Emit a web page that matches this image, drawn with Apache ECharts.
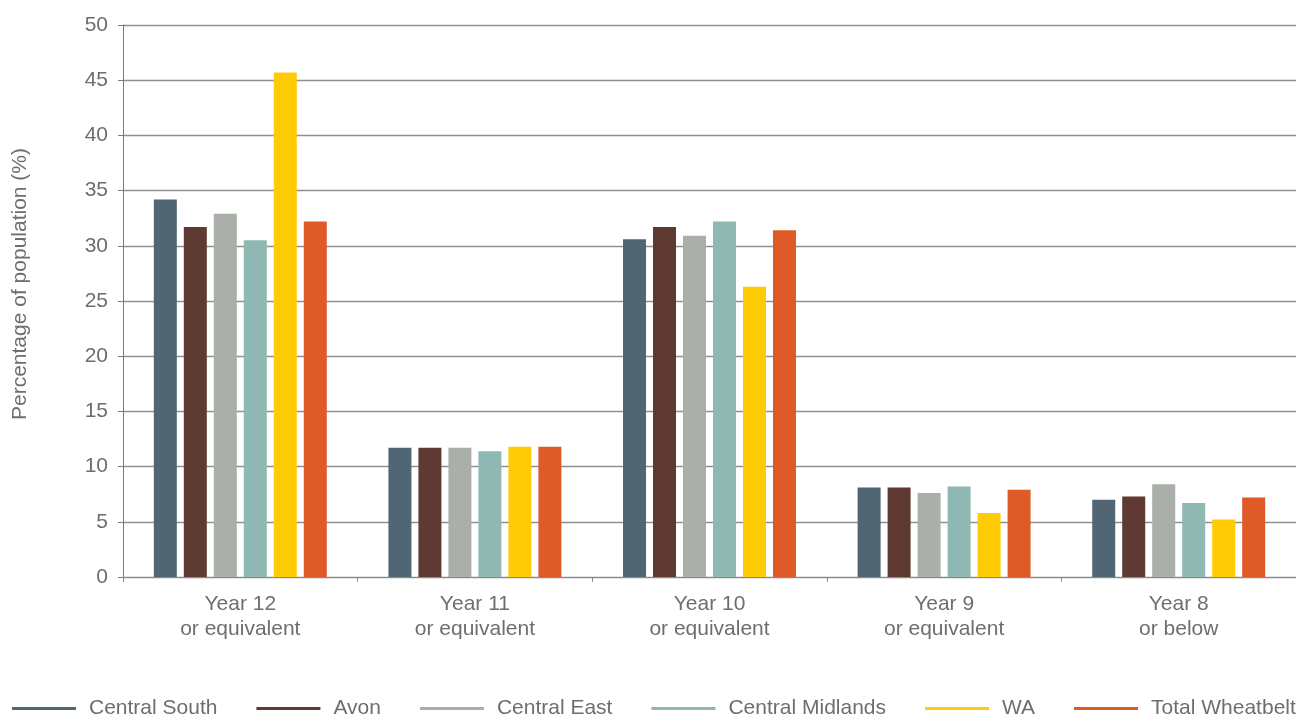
<!DOCTYPE html>
<html>
<head>
<meta charset="utf-8">
<title>Highest level of schooling completed</title>
<script src="https://cdn.jsdelivr.net/npm/echarts@6/dist/echarts.min.js"></script>
<style>
  html, body { margin: 0; padding: 0; background: #ffffff; }
  #chart { width: 1296px; height: 715px; }
</style>
</head>
<body>
<div id="chart"></div>
<script>
// Schooling categories along the x axis
const categories = [
  'Year 12\nor equivalent',
  'Year 11\nor equivalent',
  'Year 10\nor equivalent',
  'Year 9\nor equivalent',
  'Year 8\nor below'
];

// Percentage of population per region
const centralSouth    = [34.2, 11.7, 30.6, 8.1, 7.0];
const avon            = [31.7, 11.7, 31.7, 8.1, 7.3];
const centralEast     = [32.9, 11.7, 30.9, 7.6, 8.4];
const centralMidlands = [30.5, 11.4, 32.2, 8.2, 6.7];
const wa              = [45.7, 11.8, 26.3, 5.8, 5.2];
const totalWheatbelt  = [32.2, 11.8, 31.4, 7.9, 7.2];

const seriesNames = ['Central South', 'Avon', 'Central East', 'Central Midlands', 'WA', 'Total Wheatbelt'];
const seriesData = [centralSouth, avon, centralEast, centralMidlands, wa, totalWheatbelt];
const seriesColors = ['#516673', '#5f3a33', '#aab0a9', '#8fb8b3', '#ffcb05', '#de5a27'];

const textColor = '#6d6e70';
const fontFamily = '"Liberation Sans", Arial, sans-serif';
const fontSize = 21;

const chart = echarts.init(document.getElementById('chart'), null, { renderer: 'canvas' });

chart.setOption({
  animation: false,
  backgroundColor: '#ffffff',
  textStyle: { fontFamily: fontFamily, color: textColor },
  grid: { left: 123, right: 0, top: 25, bottom: 138, containLabel: false },
  legend: {
    top: 698,
    left: 12,
    padding: 0,
    itemWidth: 64,
    itemHeight: 3,
    itemGap: 39,
    icon: 'rect',
    data: seriesNames,
    textStyle: { fontSize: fontSize, color: textColor, fontFamily: fontFamily, padding: [0, 0, 0, 8] }
  },
  xAxis: {
    type: 'category',
    data: categories,
    axisLine: { show: true, lineStyle: { color: '#8a8a8a', width: 1 } },
    axisTick: { show: true, alignWithLabel: false, length: 5, lineStyle: { color: '#8a8a8a' } },
    axisLabel: { color: textColor, fontSize: fontSize, lineHeight: 25, margin: 15, interval: 0, fontFamily: fontFamily }
  },
  yAxis: {
    type: 'value',
    min: 0,
    max: 50,
    interval: 5,
    name: 'Percentage of population (%)',
    nameLocation: 'middle',
    nameGap: 92,
    nameTextStyle: { color: textColor, fontSize: fontSize, fontFamily: fontFamily, padding: [0, 0, 0, 34] },
    axisLine: { show: true, lineStyle: { color: '#7a7a7a', width: 1 } },
    axisTick: { show: true, length: 5, lineStyle: { color: '#7a7a7a' } },
    axisLabel: { color: textColor, fontSize: fontSize, margin: 15, fontFamily: fontFamily },
    splitLine: { show: true, lineStyle: { color: '#8f8f8f', width: 1.3 } }
  },
  series: seriesNames.map((name, i) => ({
    name: name,
    type: 'bar',
    data: seriesData[i],
    barWidth: 23,
    barGap: '30.4%',
    itemStyle: { color: seriesColors[i] }
  }))
});
</script>
</body>
</html>
